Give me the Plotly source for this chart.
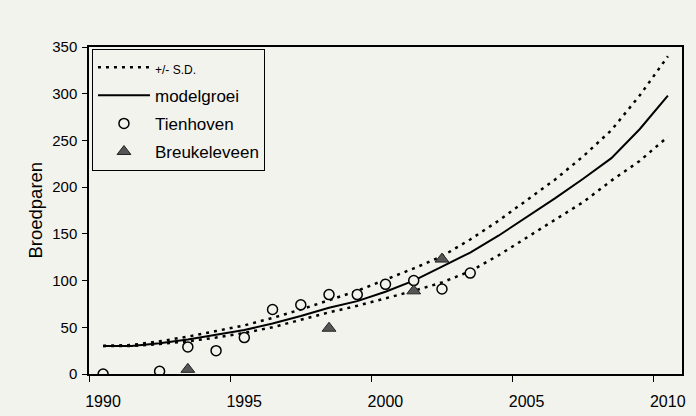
import plotly.graph_objects as go

# ---- data ----
years = list(range(1990, 2011))
model = [30, 30, 33, 37, 42, 47, 54, 62, 71, 78, 88, 100, 115, 130, 148, 168, 188, 209, 231, 262, 298]
sd_upper = [30, 31, 35, 40, 46, 52, 60, 69, 79, 89, 101, 113, 126, 144, 164, 186, 208, 233, 261, 298, 340]
sd_lower = [30, 30, 32, 35, 39, 44, 50, 58, 66, 73, 81, 89, 98, 110, 127, 146, 165, 184, 207, 228, 254]

tien_years = [1990, 1992, 1993, 1994, 1995, 1996, 1997, 1998, 1999, 2000, 2001, 2002, 2003]
tien_vals = [0, 3, 29, 25, 39, 69, 74, 85, 85, 96, 100, 91, 108]

breu_years = [1993, 1998, 2001, 2002]
breu_vals = [5, 49, 89, 123]

x_tick_text = ["1990", "1995", "2000", "2005", "2010"]
x_tick_bounds = [1989.5, 1994.5, 1999.5, 2004.5, 2009.5]

BG = "#f3f3ee"
FONT = "Arial, 'Liberation Sans', sans-serif"

fig = go.Figure()

fig.add_trace(go.Scatter(
    x=years, y=sd_upper, mode="lines",
    name="<span style='font-size:12px'>+/- S.D.</span>",
    line=dict(color="black", width=2.5, dash="3px,5px"),
    legendgroup="a",
))
fig.add_trace(go.Scatter(
    x=years, y=sd_lower, mode="lines", showlegend=False,
    line=dict(color="black", width=2.5, dash="3px,5px"),
    legendgroup="a",
))
fig.add_trace(go.Scatter(
    x=years, y=model, mode="lines", name="modelgroei",
    line=dict(color="black", width=2),
    legendgroup="b",
))
fig.add_trace(go.Scatter(
    x=tien_years, y=tien_vals, mode="markers", name="Tienhoven",
    marker=dict(symbol="circle", size=10, color=BG,
                line=dict(color="black", width=1.5)),
    legendgroup="c",
))
fig.add_trace(go.Scatter(
    x=breu_years, y=breu_vals, mode="markers", name="Breukeleveen",
    marker=dict(symbol="triangle-up", size=12, color="#555555",
                line=dict(color="#222222", width=1)),
    legendgroup="d",
))

fig.update_layout(
    width=696, height=416,
    margin=dict(l=89, r=14, t=47, b=42, autoexpand=False),
    paper_bgcolor=BG, plot_bgcolor=BG,
    font=dict(family=FONT, color="black"),
    showlegend=True,
    legend=dict(
        x=0.005, y=0.995, xanchor="left", yanchor="top",
        bgcolor=BG, bordercolor="black", borderwidth=1,
        font=dict(size=17, family=FONT),
        traceorder="grouped", tracegroupgap=3,
        itemwidth=52,
    ),
    xaxis=dict(
        range=[1989.5, 2010.5],
        tickmode="array", tickvals=x_tick_bounds, ticktext=x_tick_text,
        ticks="outside", ticklen=6, tickcolor="black", tickwidth=1,
        ticklabelshift=14,
        tickfont=dict(size=16),
        ticklabelstandoff=6,
        automargin=False,
        showgrid=False, zeroline=False,
        showline=True, linecolor="black", linewidth=1.5, mirror=True,
    ),
    yaxis=dict(
        range=[0, 350], dtick=50,
        ticks="outside", ticklen=5, tickcolor="black",
        tickfont=dict(size=15),
        ticklabelstandoff=2,
        automargin=False,
        showgrid=False, zeroline=False,
        showline=True, linecolor="black", linewidth=1.5, mirror=True,
    ),
    annotations=[dict(
        text="Broedparen", xref="paper", yref="paper",
        x=-0.091, y=0.5, xanchor="center", yanchor="middle",
        textangle=-90, showarrow=False,
        font=dict(size=18.5, family=FONT),
    )],
)

fig.write_html(
    "out.html",
    config={"displayModeBar": False},
    post_script=(
        "document.body.style.margin='0';"
        "document.body.style.background='" + BG + "';"
        "document.body.style.overflow='hidden';"
    ),
)
